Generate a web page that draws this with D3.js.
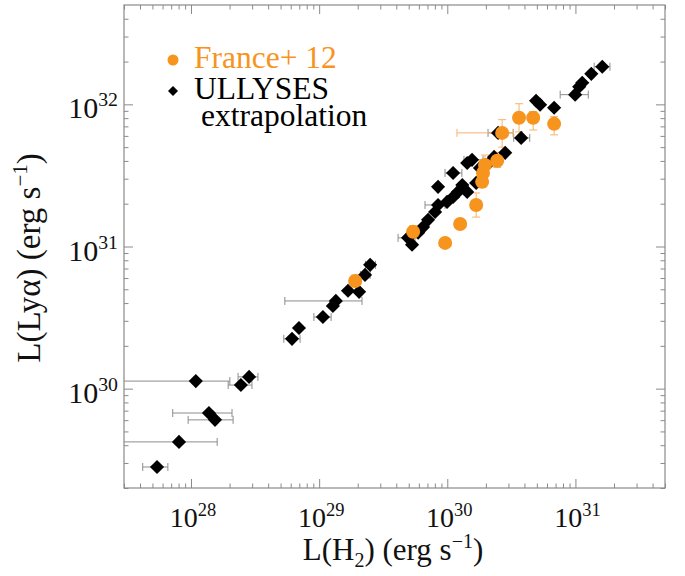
<!DOCTYPE html>
<html><head><meta charset="utf-8">
<script src="https://cdn.jsdelivr.net/npm/d3@7"></script>
<style>
html,body{margin:0;padding:0;background:#fff;}
svg{display:block;}
</style></head>
<body><svg id="c" width="685" height="576"></svg>
<script>
// ---- data ----
// ULLYSES extrapolation: L(H2), L(Lya) in erg/s
const ullysesLH2 = [5.43e27,8.06e27,1.38e28,1.54e28,1.09e28,2.45e28,2.84e28,6.14e28,6.96e28,1.07e29,1.28e29,1.35e29,1.68e29,2.05e29,2.28e29,2.5e29,
  4.94e29,5.31e29,5.92e29,6.47e29,7.08e29,8.03e29,8.47e29,9.96e29,1.11e30,1.21e30,1.31e30,1.43e30,8.47e29,1.11e30,1.56e30,1.43e30,1.8e30,2.16e30,2.32e30,2.83e30,2.49e30,3.77e30,1.68e30,
  4.93e30,5.3e30,6.82e30,9.95e30,1.07e31,1.13e31,1.33e31,1.62e31];
const ullysesLLya = [2.81e29,4.22e29,6.74e29,6.03e29,1.13e30,1.06e30,1.21e30,2.24e30,2.67e30,3.19e30,3.82e30,4.14e30,4.88e30,4.8e30,6.31e30,7.43e30,
  1.15e31,1.03e31,1.25e31,1.37e31,1.54e31,1.75e31,1.96e31,2.06e31,2.23e31,2.42e31,2.71e31,2.42e31,2.63e31,3.29e31,4.07e31,3.87e31,3.57e31,3.94e31,4.27e31,4.56e31,6.3e31,5.81e31,2.8e31,
  1.06e32,9.93e31,9.46e31,1.17e32,1.33e32,1.42e32,1.64e32,1.84e32];
// horizontal error bars (lower, upper) on L(H2); null = none drawn
const ullysesErrLo = [4.2e27,1e27,7.2e27,9.5e27,1e27,1.95e28,2.33e28,5.3e28,null,9.1e28,null,5.4e28,null,null,2.1e29,2.3e29,
  4.13e29,null,null,null,null,null,6.7e29,null,null,null,null,null,null,9.6e29,1.35e30,null,null,null,null,null,2.08e30,3.3e30,null,
  null,null,null,7.6e30,null,null,null,1.4e31];
const ullysesErrHi = [6.6e27,1.6e28,2.09e28,2.13e28,2.01e28,2.99e28,3.33e28,7.1e28,null,1.24e29,null,2.16e29,null,null,2.5e29,2.75e29,
  5.6e29,null,null,null,null,null,9.6e29,null,null,null,null,null,null,1.3e30,1.9e30,null,null,null,null,null,3.27e30,4.4e30,null,
  null,null,null,1.26e31,null,null,null,1.86e31];

// France+ 12
const franceLH2  = [1.91e29,5.41e29,9.62e29,1.26e30,1.68e30,1.87e30,1.9e30,1.97e30,2.45e30,2.68e30,3.63e30,4.68e30,6.82e30];
const franceLLya = [5.72e30,1.27e31,1.06e31,1.44e31,1.96e31,2.85e31,3.29e31,3.75e31,4.01e31,6.3e31,8.04e31,8.04e31,7.29e31];
const franceYLo  = [5.2e30,1.15e31,null,null,1.61e31,2.6e31,null,3.3e31,3.6e31,5.0e31,6.4e31,6.6e31,6.1e31];
const franceYHi  = [6.3e30,1.4e31,null,null,2.38e31,3.1e31,null,4.4e31,4.6e31,7.8e31,1.01e32,8.9e31,8.2e31];
const franceXLo  = [null,null,null,null,null,null,null,null,null,1.19e30,null,null,null];
const franceXHi  = [null,null,null,null,null,null,null,null,null,3.27e30,null,null,null];

const xDomain = [3e27, 5e31];
const yDomain = [2e29, 5e32];
const xMajorTicks = [1e28, 1e29, 1e30, 1e31];
const xTickExp = ["28","29","30","31"];
const yMajorTicks = [1e30, 1e31, 1e32];
const yTickExp = ["30","31","32"];
const legendLabels = ["France+ 12", "ULLYSES", "extrapolation"];

// ---- drawing ----
const FONT = "'Liberation Serif','Times New Roman',Times,'DejaVu Serif','Noto Serif',serif";
const svg = d3.select("#c").attr("font-family", FONT);
const L = 124, R = 665, T = 5, B = 488;
const ORANGE = "#f7941d", FRAME = "#8a8a8a";
const x = d3.scaleLog().domain(xDomain).range([L, R]);
const y = d3.scaleLog().domain(yDomain).range([B, T]);

const isMajor = v => Math.abs(Math.log10(v) - Math.round(Math.log10(v))) < 1e-9;
const xMinor = x.ticks().filter(v => !isMajor(v));
const yMinor = y.ticks().filter(v => !isMajor(v));

function axes(gen, scale, vals, size, tr) {
  const g = svg.append("g").attr("transform", tr)
    .call(gen(scale).tickValues(vals).tickSize(size).tickFormat(""));
  g.select(".domain").remove();
  g.selectAll("line").attr("stroke", FRAME).attr("stroke-width", 1);
}
axes(d3.axisTop, x, xMajorTicks, 9, `translate(0,${B})`);
axes(d3.axisTop, x, xMinor, 4.5, `translate(0,${B})`);
axes(d3.axisBottom, x, xMajorTicks, 9, `translate(0,${T})`);
axes(d3.axisBottom, x, xMinor, 4.5, `translate(0,${T})`);
axes(d3.axisRight, y, yMajorTicks, 9, `translate(${L},0)`);
axes(d3.axisRight, y, yMinor, 4.5, `translate(${L},0)`);
axes(d3.axisLeft, y, yMajorTicks, 9, `translate(${R},0)`);
axes(d3.axisLeft, y, yMinor, 4.5, `translate(${R},0)`);

svg.append("rect").attr("x", L).attr("y", T).attr("width", R - L).attr("height", B - T)
  .attr("fill", "none").attr("stroke", FRAME).attr("stroke-width", 1.2);

// tick labels
const TL = 28;
xMajorTicks.forEach((v, i) => {
  const t = svg.append("text").attr("x", x(v) + 2).attr("y", B + 39).attr("text-anchor", "middle")
    .attr("font-family", FONT).attr("font-size", TL).attr("fill", "#111");
  t.append("tspan").text("10");
  t.append("tspan").attr("dy", -11).attr("font-size", TL * 0.66).text(xTickExp[i]);
});
yMajorTicks.forEach((v, i) => {
  const t = svg.append("text").attr("x", 118).attr("y", y(v) + 14).attr("text-anchor", "end")
    .attr("font-family", FONT).attr("font-size", TL + 2).attr("fill", "#111");
  t.append("tspan").text("10");
  t.append("tspan").attr("dy", -12).attr("font-size", (TL + 2) * 0.66).text(yTickExp[i]);
});

// axis titles
{
  const t = svg.append("text").attr("x", 393).attr("y", 560).attr("text-anchor", "middle")
    .attr("font-family", FONT).attr("font-size", 31).attr("fill", "#111");
  t.append("tspan").text("L(H");
  t.append("tspan").attr("dy", 7).attr("font-size", 20).text("2");
  t.append("tspan").attr("dy", -7).text(") (erg s");
  t.append("tspan").attr("dy", -12).attr("font-size", 20).text("−1");
  t.append("tspan").attr("dy", 12).text(")");
}
{
  const t = svg.append("text").attr("transform", "translate(40,258) rotate(-90)").attr("text-anchor", "middle")
    .attr("font-family", FONT).attr("font-size", 33).attr("fill", "#111");
  t.append("tspan").text("L(Lyα) (erg s");
  t.append("tspan").attr("dy", -13).attr("font-size", 21).text("−1");
  t.append("tspan").attr("dy", 13).text(")");
}

// plot content clipped to frame
svg.append("clipPath").attr("id", "clip").append("rect")
  .attr("x", L).attr("y", T).attr("width", R - L).attr("height", B - T);
const plot = svg.append("g").attr("clip-path", "url(#clip)");

function hbar(g, lo, hi, yy, col) {
  g.append("line").attr("x1", x(lo)).attr("x2", x(hi)).attr("y1", yy).attr("y2", yy)
    .attr("stroke", col).attr("stroke-width", 1);
  [lo, hi].forEach(v => g.append("line").attr("x1", x(v)).attr("x2", x(v)).attr("y1", yy - 4).attr("y2", yy + 4)
    .attr("stroke", col).attr("stroke-width", 1));
}
function vbar(g, lo, hi, xx, col) {
  g.append("line").attr("x1", xx).attr("x2", xx).attr("y1", y(lo)).attr("y2", y(hi))
    .attr("stroke", col).attr("stroke-width", 1);
  [lo, hi].forEach(v => g.append("line").attr("y1", y(v)).attr("y2", y(v)).attr("x1", xx - 4).attr("x2", xx + 4)
    .attr("stroke", col).attr("stroke-width", 1));
}
const eb = plot.append("g");
ullysesLH2.forEach((v, i) => {
  if (ullysesErrLo[i] != null) hbar(eb, ullysesErrLo[i], ullysesErrHi[i], y(ullysesLLya[i]), "#8c8c8c");
});
franceLH2.forEach((v, i) => {
  if (franceXLo[i] != null) hbar(eb, franceXLo[i], franceXHi[i], y(franceLLya[i]), "#f6b26b");
  if (franceYLo[i] != null) vbar(eb, franceYLo[i], franceYHi[i], x(v), "#f6b26b");
});

const diamond = d3.symbol().type(d3.symbolSquare).size(100);
plot.append("g").selectAll("path").data(ullysesLH2).join("path")
  .attr("d", diamond)
  .attr("transform", (d, i) => `translate(${x(d)},${y(ullysesLLya[i])}) rotate(45)`)
  .attr("fill", "#000");
plot.append("g").selectAll("circle").data(franceLH2).join("circle")
  .attr("cx", d => x(d)).attr("cy", (d, i) => y(franceLLya[i])).attr("r", 7)
  .attr("fill", ORANGE);

// legend
svg.append("circle").attr("cx", 173).attr("cy", 60).attr("r", 5.5).attr("fill", ORANGE);
svg.append("path").attr("d", d3.symbol().type(d3.symbolSquare).size(50))
  .attr("transform", "translate(173,91) rotate(45)").attr("fill", "#000");
[[194, 68, ORANGE], [194, 99, "#000"], [201, 126, "#000"]].forEach((p, i) => {
  svg.append("text").attr("x", p[0]).attr("y", p[1]).attr("font-family", FONT).attr("font-size", 31.5)
    .attr("fill", p[2]).text(legendLabels[i]);
});
</script></body></html>
